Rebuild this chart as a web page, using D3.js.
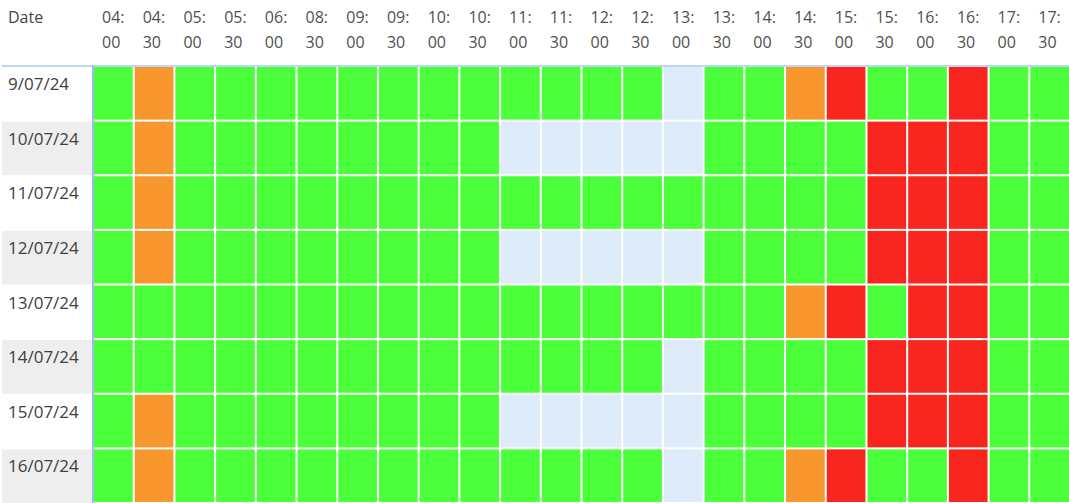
<!DOCTYPE html>
<html>
<head>
<meta charset="utf-8">
<script src="https://cdn.jsdelivr.net/npm/d3@7/dist/d3.min.js"></script>
<style>
  html, body { margin: 0; padding: 0; background: #fff; }
  svg { display: block; }
  text { font-family: "Open Sans", "Noto Sans", sans-serif; }
</style>
</head>
<body>
<svg id="chart" width="1069" height="503"></svg>
<script>
// ---- Data ----
const times = ["04:00","04:30","05:00","05:30","06:00","08:30","09:00","09:30","10:00","10:30",
               "11:00","11:30","12:00","12:30","13:00","13:30","14:00","14:30","15:00","15:30",
               "16:00","16:30","17:00","17:30"];
const dates = ["9/07/24","10/07/24","11/07/24","12/07/24","13/07/24","14/07/24","15/07/24","16/07/24"];
// status codes per date: G = ok, O = warning, R = alert, N = no data
const status_9  = "GOGGGGGGGGGGGGNGGORGGRGG";
const status_10 = "GOGGGGGGGGNNNNNGGGGRRRGG";
const status_11 = "GOGGGGGGGGGGGGGGGGGRRRGG";
const status_12 = "GOGGGGGGGGNNNNNGGGGRRRGG";
const status_13 = "GGGGGGGGGGGGGGGGGORGRRGG";
const status_14 = "GGGGGGGGGGGGGGNGGGGRRRGG";
const status_15 = "GOGGGGGGGGNNNNNGGGGRRRGG";
const status_16 = "GOGGGGGGGGGGGGNGGORGGRGG";
const statusRows = [status_9, status_10, status_11, status_12, status_13, status_14, status_15, status_16];
const statusCodes = ["G","O","R","N"];
const statusColors = ["#4cff3b","#f7972e","#f8261f","#ddebfa"];

// ---- Layout ----
const W = 1069, H = 503;
const labelW = 93, headerH = 66;
const svg = d3.select("#chart");

const x = d3.scaleBand().domain(times).range([labelW, 1070]);
const y = d3.scaleBand().domain(dates).range([headerH, H]);
const color = d3.scaleOrdinal().domain(statusCodes).range(statusColors);

// label column backgrounds (alternating)
svg.append("g").selectAll("rect").data(dates).join("rect")
  .attr("x", 2).attr("y", d => y(d) + 1)
  .attr("width", labelW - 3).attr("height", y.bandwidth() - 1)
  .attr("fill", (d, i) => i % 2 === 1 ? "#eeeeee" : "#ffffff");

// cells
const cells = [];
statusRows.forEach((row, r) => {
  row.split("").forEach((s, c) => cells.push({date: dates[r], time: times[c], s}));
});
svg.append("g").selectAll("rect").data(cells).join("rect")
  .attr("x", d => x(d.time) + 1)
  .attr("y", d => y(d.date) + 1)
  .attr("width", x.bandwidth() - 2)
  .attr("height", y.bandwidth() - 2)
  .attr("fill", d => color(d.s));

// header text
svg.append("text").attr("x", 8).attr("y", 23)
  .attr("font-size", 16).attr("fill", "#454545").text("Date");

const hdr = svg.append("g").selectAll("text").data(times).join("text")
  .attr("x", d => x(d) + 9)
  .attr("font-size", 16).attr("fill", "#505050");
hdr.append("tspan").attr("y", 23).attr("x", d => x(d) + 9).text(d => d.split(":")[0] + ":");
hdr.append("tspan").attr("y", 48).attr("x", d => x(d) + 9).text(d => d.split(":")[1]);

// date labels
svg.append("g").selectAll("text").data(dates).join("text")
  .attr("x", 8).attr("y", d => y(d) + 24)
  .attr("font-size", 17).attr("fill", "#404040").text(d => d);

// header separator line and left grid border
svg.append("line").attr("x1", 2).attr("x2", W).attr("y1", headerH).attr("y2", headerH)
  .attr("stroke", "#a9c9f2").attr("stroke-width", 1.5);
svg.append("line").attr("x1", labelW).attr("x2", labelW).attr("y1", headerH).attr("y2", H)
  .attr("stroke", "#5a8ee8").attr("stroke-width", 1.2);
</script>
</body>
</html>
